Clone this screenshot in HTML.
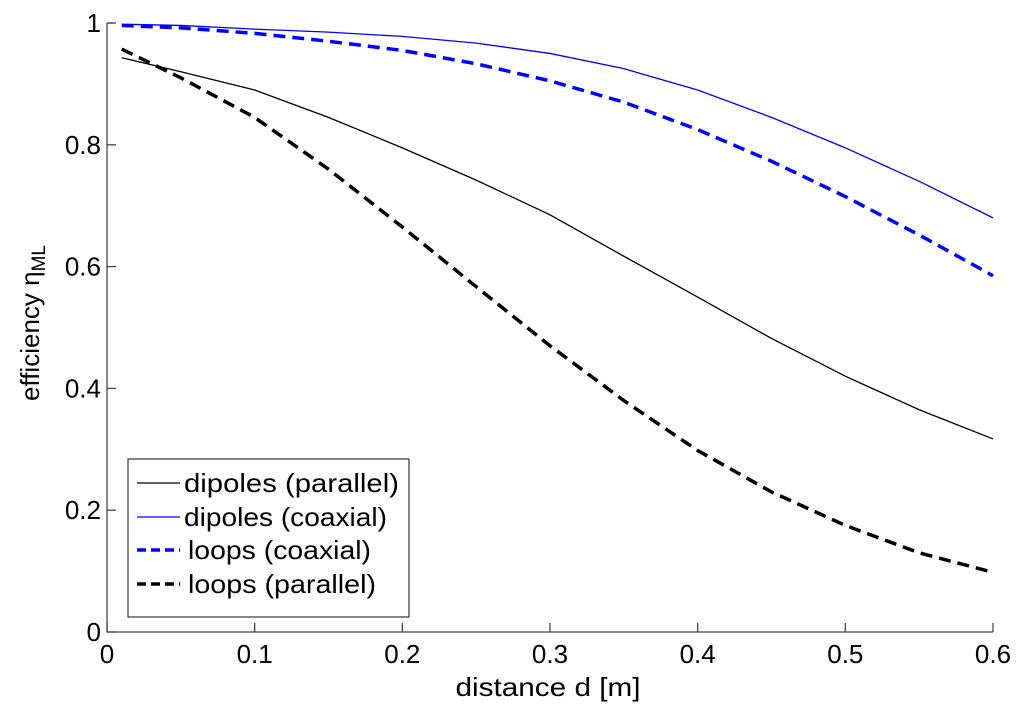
<!DOCTYPE html>
<html><head><meta charset="utf-8"><style>
body{margin:0;background:#fff}
svg{display:block;font-family:"Liberation Sans",sans-serif}
</style></head><body>
<svg id="chart" width="1024" height="709"></svg>
<script>
const xs = [0.01,0.05,0.1,0.15,0.2,0.25,0.3,0.35,0.4,0.45,0.5,0.55,0.6];
const dipolesParallel = [0.943,0.92,0.89,0.845,0.795,0.742,0.685,0.617,0.55,0.482,0.42,0.365,0.317];
const dipolesCoaxial = [0.998,0.996,0.99,0.985,0.978,0.967,0.95,0.925,0.89,0.845,0.795,0.74,0.68];
const loopsCoaxial = [0.996,0.992,0.983,0.97,0.955,0.933,0.905,0.87,0.825,0.773,0.715,0.652,0.585];
const loopsParallel = [0.957,0.91,0.845,0.76,0.665,0.567,0.47,0.38,0.298,0.23,0.175,0.13,0.098];
const xTicks = [0,0.1,0.2,0.3,0.4,0.5,0.6];
const yTicks = [0,0.2,0.4,0.6,0.8,1];
const legendLabels = ["dipoles (parallel)","dipoles (coaxial)","loops (coaxial)","loops (parallel)"];

const NS="http://www.w3.org/2000/svg";
const svg=document.getElementById('chart');
const X0=107,X1=993,Y0=632,Y1=23;
const sx=v=>X0+(v-0)/(0.6)*(X1-X0);
const sy=v=>Y0-(v)*(Y0-Y1);
function mk(t,a,p){const e=document.createElementNS(NS,t);for(const k in a)e.setAttribute(k,a[k]);(p||svg).appendChild(e);return e;}

const axes=mk('path',{d:`M${X0},${Y1} H${X0+6} M${X0},${Y1} V${Y0} H${X1}`,fill:'none',stroke:'#444','stroke-width':1.3});


xTicks.forEach(t=>{
  const l=mk('line',{x1:sx(t),x2:sx(t),y1:Y0,y2:Y0-9,stroke:'#444','stroke-width':1.3});
  
  
  const tx=mk('text',{x:sx(t),y:Y0+31,'font-size':26,'text-anchor':'middle'});
  tx.textContent=String(t);
  
  
});
yTicks.forEach(t=>{
  const l=mk('line',{x1:X0,x2:X0+9,y1:sy(t),y2:sy(t),stroke:'#444','stroke-width':1.3});
  
  
  const tx=mk('text',{x:X0-6,y:sy(t)+9,'font-size':26,'text-anchor':'end'});
  tx.textContent=String(t);
  
  
});
const xl=mk('text',{x:548,y:696,'font-size':26,'text-anchor':'middle',textLength:185,lengthAdjust:'spacingAndGlyphs'});
xl.textContent='distance d [m]';


const yl=mk('text',{x:0,y:0,'font-size':26,'text-anchor':'middle',transform:'translate(39,323) rotate(-90)'});
yl.innerHTML='efficiency η<tspan font-size="19" dy="6">ML</tspan>';



const series=[
 {v:dipolesParallel,c:'#000',w:1.3,d:'',n:'dipoles-parallel-line'},
 {v:dipolesCoaxial,c:'#00f',w:1.3,d:'',n:'dipoles-coaxial-line'},
 {v:loopsCoaxial,c:'#00f',w:3.5,d:'12,7',n:'loops-coaxial-line'},
 {v:loopsParallel,c:'#000',w:3.5,d:'12,7',n:'loops-parallel-line'}];
series.forEach(s=>{
  const pts=s.v.map((v,i)=>sx(xs[i])+','+sy(v)).join(' ');
  const p=mk('polyline',{points:pts,fill:'none',stroke:s.c,'stroke-width':s.w,'stroke-dasharray':s.d});
  
  
});

const lg=mk('g',{});


mk('rect',{x:128,y:459,width:281,height:158,fill:'#fff',stroke:'#444','stroke-width':1.3},lg);
const ly=[483,517,550,584];
const lx=[184,184,188,188];
const lw=[215,203,183,188];
series.forEach((s,i)=>{
  const l=mk('line',{x1:137,x2:180,y1:ly[i],y2:ly[i],stroke:s.c,'stroke-width':s.w,'stroke-dasharray':s.d?'9,5':''},lg);
  
  
  const t=mk('text',{x:lx[i],y:ly[i]+9,'font-size':26,textLength:lw[i],lengthAdjust:'spacingAndGlyphs'},lg);
  t.textContent=legendLabels[i];
  
  
});
</script>
</body></html>
